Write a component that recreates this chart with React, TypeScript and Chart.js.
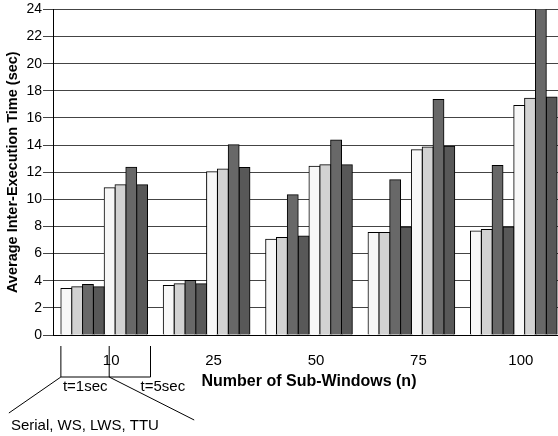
import React, { useEffect, useRef } from "react";
import { Chart, registerables } from "chart.js";

Chart.register(...registerables);

const categories = ["10", "25", "50", "75", "100"];
const serialT1 = [3.43, 3.65, 7.06, 7.55, 7.67];
const wsT1 = [3.55, 3.77, 7.18, 7.55, 7.77];
const lwsT1 = [3.72, 4.02, 10.34, 11.45, 12.5];
const ttuT1 = [3.55, 3.77, 7.3, 7.96, 7.96];
const serialT5 = [10.85, 12.04, 12.43, 13.65, 16.91];
const wsT5 = [11.08, 12.23, 12.55, 13.85, 17.45];
const lwsT5 = [12.37, 14.02, 14.38, 17.35, 24.2];
const ttuT5 = [11.08, 12.35, 12.55, 13.92, 17.55];
const seriesNames = ["Serial", "WS", "LWS", "TTU"];
const windowLabels = ["t=1sec", "t=5sec"];
const seriesColors = ["#f7f7f7", "#d2d2d2", "#686868", "#585858"];

const FONT = "'Liberation Sans', Arial, Helvetica, sans-serif";

const bracketPlugin = {
  id: "bracket",
  afterDraw(chart: any) {
    const ctx = chart.ctx;
    const xs = chart.scales.x;
    const area = chart.chartArea;
    const step = xs.width / categories.length;
    const c = xs.getPixelForValue(0);
    const half = (step * 0.846) / 2;
    const left = c - half;
    const right = c + half + 3;
    const mid = c + 5;
    const top = area.bottom + 11;
    const base = area.bottom + 42;
    ctx.save();
    ctx.strokeStyle = "#000";
    ctx.lineWidth = 1;
    ctx.beginPath();
    ctx.moveTo(left, top);
    ctx.lineTo(left, base);
    ctx.lineTo(right, base);
    ctx.lineTo(right, top);
    ctx.moveTo(mid, top);
    ctx.lineTo(mid, base);
    ctx.moveTo(left, base);
    ctx.lineTo(left - 52, base + 36);
    ctx.moveTo(mid, base);
    ctx.lineTo(mid + 85, base + 43);
    ctx.stroke();
    ctx.fillStyle = "#000";
    ctx.font = `15px ${FONT}`;
    ctx.textBaseline = "middle";
    ctx.textAlign = "left";
    ctx.fillText(windowLabels[0], left + 2, base + 10);
    ctx.fillText(windowLabels[1], right - 10, base + 10);
    ctx.font = `15px ${FONT}`;
    ctx.fillText(seriesNames.join(", "), left - 50, base + 49);
    ctx.restore();
  },
};

export default function App() {
  const ref = useRef<HTMLCanvasElement | null>(null);
  useEffect(() => {
    if (!ref.current) return;
    const groups = [
      [serialT1, wsT1, lwsT1, ttuT1],
      [serialT5, wsT5, lwsT5, ttuT5],
    ];
    const datasets: any[] = [];
    groups.forEach((g, gi) => {
      g.forEach((vals, si) => {
        datasets.push({
          label: `${seriesNames[si]} ${windowLabels[gi]}`,
          data: vals,
          backgroundColor: seriesColors[si],
          borderColor: "#000",
          borderWidth: 1,
          inflateAmount: 0.5,
          categoryPercentage: 0.846,
          barPercentage: 1,
        });
      });
    });
    const chart = new Chart(ref.current, {
      type: "bar",
      data: { labels: categories, datasets },
      plugins: [bracketPlugin],
      options: {
        animation: false,
        responsive: false,
        devicePixelRatio: 1,
        layout: { padding: { top: 9, right: 0, bottom: 0, left: 0 } },
        plugins: { legend: { display: false }, tooltip: { enabled: false } },
        scales: {
          x: {
            grid: { display: false, drawTicks: false },
            border: { display: true, color: "#000", width: 1 },
            ticks: {
              color: "#000",
              font: { family: FONT, size: 15 },
              padding: 17,
              labelOffset: 7,
              maxRotation: 0,
            },
            title: {
              display: true,
              text: "Number of Sub-Windows (n)",
              color: "#000",
              font: { family: FONT, size: 16, weight: "bold" },
              padding: { top: 0, bottom: 45 },
            },
            afterFit(scale: any) {
              scale.height = 101;
            },
          },
          y: {
            min: 0,
            max: 24,
            ticks: {
              stepSize: 2,
              color: "#000",
              font: { family: FONT, size: 14 },
              padding: 1,
            },
            grid: { color: "#444", lineWidth: 1, drawTicks: true, tickLength: 10 },
            border: { display: true, color: "#000", width: 1 },
            title: {
              display: true,
              text: "Average Inter-Execution Time (sec)",
              color: "#000",
              font: { family: FONT, size: 14.5, weight: "bold" },
              padding: { top: 4, bottom: 0 },
            },
            afterFit(scale: any) {
              scale.width = 53;
            },
          },
        },
      },
    });
    return () => chart.destroy();
  }, []);
  return (
    <div
      style={{
        position: "absolute",
        top: 0,
        left: 0,
        width: 558,
        height: 436,
        overflow: "hidden",
        background: "#fff",
      }}
    >
      <canvas ref={ref} width={565} height={436} style={{ display: "block" }} />
    </div>
  );
}
